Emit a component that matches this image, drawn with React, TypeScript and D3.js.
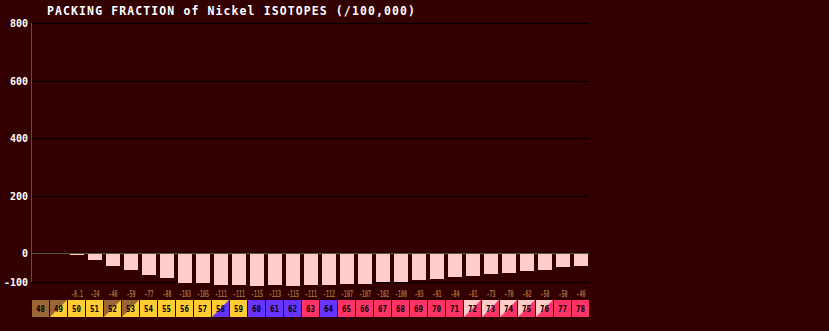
import React from "react";
import * as d3 from "d3";

const isotopes = [48, 49, 50, 51, 52, 53, 54, 55, 56, 57, 58, 59, 60, 61, 62, 63, 64, 65, 66, 67, 68, 69, 70, 71, 72, 73, 74, 75, 76, 77, 78];
const packing: (number | null)[] = [null, null, -8.1, -24, -46, -59, -77, -88, -103, -105, -111, -111, -115, -113, -115, -111, -112, -107, -107, -102, -100, -93, -91, -84, -81, -73, -70, -62, -58, -50, -46];
const labels = ["", "", "-8.1", "-24", "-46", "-59", "-77", "-88", "-103", "-105", "-111", "-111", "-115", "-113", "-115", "-111", "-112", "-107", "-107", "-102", "-100", "-93", "-91", "-84", "-81", "-73", "-70", "-62", "-58", "-50", "-46"];
// decay type: primary (top-left) and secondary (bottom-right)
const modeA = ["p", "p", "b+", "b+", "p", "p", "b+", "b+", "b+", "b+", "b+", "b+", "s", "s", "s", "b-", "s", "b-", "b-", "b-", "b-", "b-", "b-", "b-", "n", "n", "n", "n", "n", "b-", "b-"];
const modeB = ["p", "b+", "b+", "b+", "b+", "b+", "b+", "b+", "b+", "b+", "s", "b+", "s", "s", "s", "b-", "s", "b-", "b-", "b-", "b-", "b-", "b-", "b-", "b-", "b-", "b-", "b-", "b-", "b-", "b-"];
const yTicks = [800, 600, 400, 200, 0, -100];

const modeColor: Record<string, string> = {
  p: "#9a6836",
  "b+": "#ffcc33",
  s: "#6633ff",
  "b-": "#ff3366",
  n: "#ffcccc",
};

export default function App() {
  const W = 829, H = 331;
  const x = d3.scaleBand<number>().domain(isotopes).range([32, 590]);
  const step = x.step();
  const y = d3.scaleLinear().domain([-100, 800]).range([281.75, 23]);
  const mono = "'DejaVu Sans Mono', 'Liberation Mono', monospace";
  const cellTop = 300, cellH = 17;
  return (
    <svg width={W} height={H} style={{ position: "fixed", left: 0, top: 0, background: "#320000" }} shapeRendering="crispEdges">
      <rect x={0} y={0} width={W} height={H} fill="#320000" />
      <text x={47} y={15} fill="#ffffff" fontFamily={mono} fontWeight="bold" fontSize={11.5} textLength={368} lengthAdjust="spacing">PACKING FRACTION of Nickel ISOTOPES (/100,000)</text>
      {yTicks.filter(t => t !== 0).map(t => (
        <line key={"g" + t} x1={31} x2={589} y1={Math.round(y(t)) + 0.5} y2={Math.round(y(t)) + 0.5} stroke="#000" strokeWidth={1} />
      ))}
      {yTicks.map(t => (
        <text key={"t" + t} x={28} y={Math.round(y(t)) + 3.5} fill="#fff" fontFamily={mono} fontWeight="bold" fontSize={10} textAnchor="end">{t}</text>
      ))}
      {isotopes.map((iso, i) => {
        const v = packing[i];
        if (v === null) return null;
        const y0 = y(0), y1 = y(v);
        return <rect key={"b" + iso} x={x(iso)! + 2} width={step - 4} y={Math.min(y0, y1)} height={Math.abs(y1 - y0)} fill="#ffcccc" />;
      })}
      <line x1={31} x2={589} y1={Math.round(y(0)) + 0.5} y2={Math.round(y(0)) + 0.5} stroke="#4d5e2c" strokeWidth={1} />
      <line x1={31.5} x2={31.5} y1={23} y2={282} stroke="#4d5e2c" strokeWidth={1} />
      {isotopes.map((iso, i) => labels[i] ? (
        <text key={"v" + iso} x={x(iso)! + step / 2 - (labels[i].length * 3) / 2} y={297} fill="#a8733e" fontFamily={mono} fontWeight="bold" fontSize={8}
          textLength={labels[i].length * 3} lengthAdjust="spacingAndGlyphs">{labels[i]}</text>
      ) : null)}
      {isotopes.map((iso, i) => {
        const x0 = x(iso)!;
        const w = step - 1;
        const a = modeColor[modeA[i]], b = modeColor[modeB[i]];
        return (
          <g key={"c" + iso}>
            <rect x={x0} y={cellTop} width={w} height={cellH} fill={a} />
            {a !== b && (
              <polygon points={`${x0 + w},${cellTop} ${x0 + w},${cellTop + cellH} ${x0},${cellTop + cellH}`} fill={b} shapeRendering="auto" />
            )}
            <text x={x0 + w / 2 - 4.5} y={cellTop + 11.5} fill="#000" fontFamily={mono} fontWeight="bold" fontSize={8.5} textLength={9} lengthAdjust="spacingAndGlyphs">{iso}</text>
          </g>
        );
      })}
    </svg>
  );
}
